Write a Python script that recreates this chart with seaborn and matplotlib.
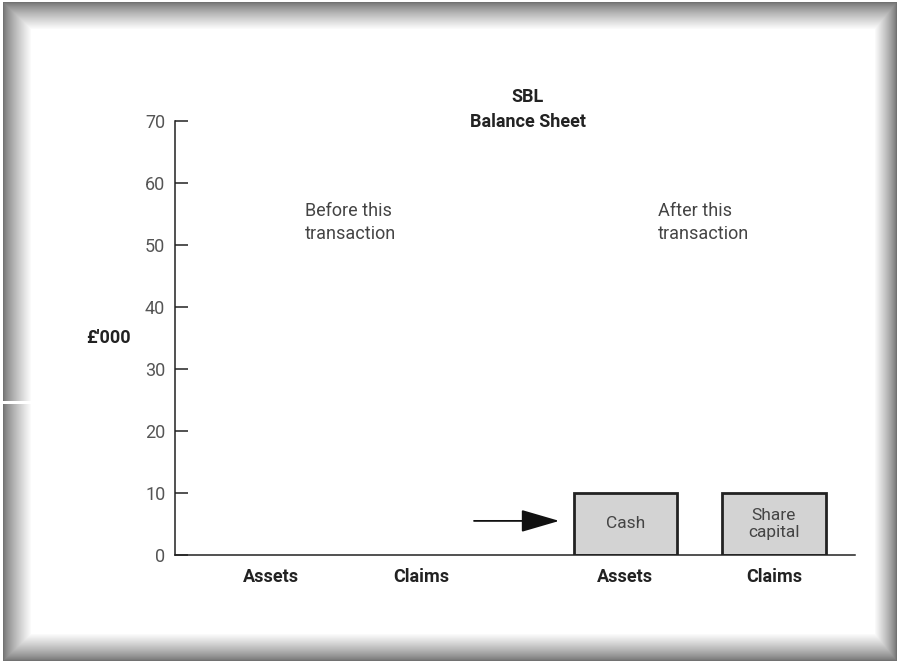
import numpy as np
import pandas as pd
import matplotlib
matplotlib.use("Agg")
import matplotlib.pyplot as plt
import seaborn as sns

# ---- data ----
categories = ["Assets", "Claims", "Assets", "Claims"]
positions = [0.0, 1.0, 2.36, 3.35]
values = [0, 0, 10, 10]
bar_labels = ["", "", "Cash", "Share\ncapital"]
yticks = [0, 10, 20, 30, 40, 50, 60, 70]
title_lines = ["SBL", "Balance Sheet"]
ylabel = "£'000"
panel_notes = ["Before this\ntransaction", "After this\ntransaction"]

sns.set_theme(style="white")
plt.rcParams['font.family'] = ['Roboto', 'DejaVu Sans']

W, H = 898, 662
fig = plt.figure(figsize=(W / 100, H / 100), dpi=100)
fig.patch.set_facecolor("white")

# ---- bevelled frame ----
yy, xx = np.mgrid[0:H, 0:W].astype(float)
dl = (xx - 3) / 28.0
dt = (yy - 2) / 27.0
dr = (896 - xx) / 22.0
db = (660 - yy) / 27.0
d = np.minimum(np.minimum(dl, dt), np.minimum(dr, db))
shade = np.clip(0.45 + 0.55 * np.clip(d, 0, 1) ** 0.8, 0, 1)
img = np.ones((H, W, 4))
img[..., 0] = shade
img[..., 1] = shade
img[..., 2] = shade
mask = (d >= 0) & (d < 1)
img[..., 3] = np.where(mask, 1.0, 0.0)
gap = (yy >= 401) & (yy <= 403) & (xx < 32)
img[gap, 3] = 0.0
fig.figimage(img, xo=0, yo=0, origin="upper", zorder=0)

ax = fig.add_axes([175 / W, 107 / H, 680 / W, 434 / H])
ax.set_facecolor("none")

df = pd.DataFrame({"pos": positions, "value": values, "cat": categories, "label": bar_labels})
plot_df = df[df["value"] > 0]
sns.barplot(data=plot_df, x="pos", y="value", native_scale=True, width=0.69 / 0.99,
            color="#d3d3d3", saturation=1, edgecolor="#222222", linewidth=2, ax=ax)

for _, r in plot_df.iterrows():
    ax.text(r["pos"], r["value"] / 2, r["label"], ha="center", va="center",
            fontsize=12.5, color="#444444", linespacing=1.1)

ax.set_xlim(-0.64, 3.89)
ax.set_ylim(0, 70)
ax.set_yticks(yticks)
ax.set_yticklabels([str(t) for t in yticks], fontsize=13, color="#555555")
ax.set_xticks(positions)
ax.set_xticklabels(categories, fontsize=13, fontweight="bold", color="#222222")
ax.tick_params(axis="y", direction="in", length=9.5, width=1.1, color="#222222", pad=7, left=True)
ax.tick_params(axis="x", length=0, pad=9)
ax.set_xlabel("")
ax.set_ylabel("")

for s in ["top", "right"]:
    ax.spines[s].set_visible(False)
for s in ["left", "bottom"]:
    ax.spines[s].set_color("#222222")
    ax.spines[s].set_linewidth(1.1)

ax.text(0.519, 1.055, title_lines[0], transform=ax.transAxes, ha="center", va="center",
        fontsize=13, fontweight="bold", color="#222222")
ax.text(0.519, 0.998, title_lines[1], transform=ax.transAxes, ha="center", va="center",
        fontsize=13, fontweight="bold", color="#222222")
ax.text(-0.0985, 0.5, ylabel, transform=ax.transAxes, ha="center", va="center",
        fontsize=13, fontweight="bold", color="#222222")
ax.text(0.191, 0.767, panel_notes[0], transform=ax.transAxes, ha="left", va="center",
        fontsize=13, color="#444444", linespacing=1.35)
ax.text(0.710, 0.767, panel_notes[1], transform=ax.transAxes, ha="left", va="center",
        fontsize=13, color="#444444", linespacing=1.35)

ax.annotate("", xy=(1.92, 5.5), xytext=(1.352, 5.5),
            arrowprops=dict(arrowstyle="-|>,head_length=1.2,head_width=0.35",
                            color="#111111", lw=1.3, mutation_scale=20,
                            shrinkA=0, shrinkB=0))

fig.savefig("out.png", dpi=100)
